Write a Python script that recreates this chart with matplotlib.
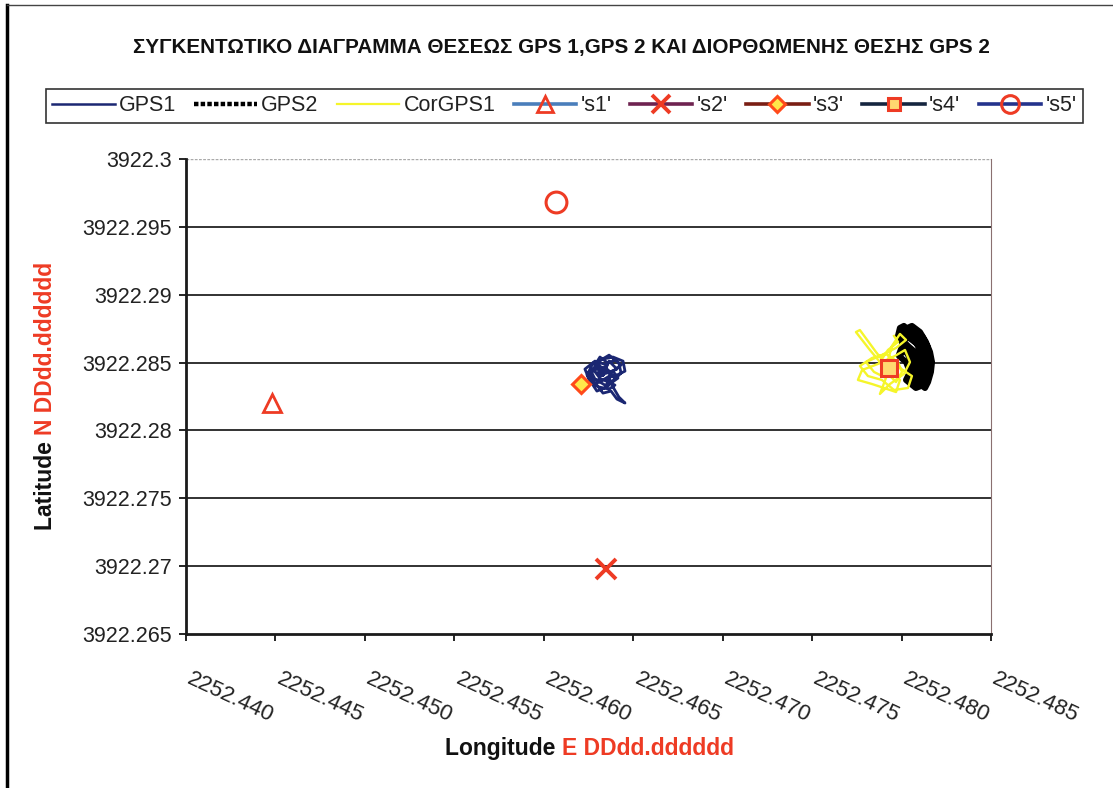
import matplotlib
matplotlib.use("Agg")
import matplotlib.pyplot as plt
import matplotlib.transforms as mtransforms
from matplotlib.lines import Line2D
from matplotlib.ticker import FixedLocator, FormatStrFormatter

plt.rcParams["font.family"] = ["Liberation Sans", "DejaVu Sans"]

TITLE = "ΣΥΓΚΕΝΤΩΤΙΚΟ ΔΙΑΓΡΑΜΜΑ ΘΕΣΕΩΣ GPS 1,GPS 2 ΚΑΙ ΔΙΟΡΘΩΜΕΝΗΣ ΘΕΣΗΣ GPS 2"
RED = "#EE3B24"

# GPS1 track (longitude E, latitude N, DDdd.dddddd)
gps1_lon = [2252.46331, 2252.46286, 2252.46314, 2252.46359, 2252.46398, 2252.46432,
            2252.46387, 2252.46415, 2252.46376, 2252.46320, 2252.46275, 2252.46253,
            2252.46297, 2252.46342, 2252.46376, 2252.46353, 2252.46398, 2252.46365,
            2252.46309, 2252.46264, 2252.46242, 2252.46275, 2252.46331, 2252.46387,
            2252.46443, 2252.46454, 2252.46409, 2252.46365, 2252.46387, 2252.46420,
            2252.46454, 2252.46409, 2252.46376, 2252.46331, 2252.46297, 2252.46253,
            2252.46230, 2252.46286, 2252.46353, 2252.46331,
            2252.46365, 2252.46409, 2252.46353, 2252.46309, 2252.46264, 2252.46286,
            2252.46342, 2252.46387, 2252.46432, 2252.46420, 2252.46365, 2252.46309,
            2252.46275, 2252.46309, 2252.46365, 2252.46398, 2252.46353, 2252.46297,
            2252.46275, 2252.46320, 2252.46376, 2252.46342, 2252.46297, 2252.46331]
gps1_lat = [3922.28408, 3922.28482, 3922.28541, 3922.28496, 3922.28519, 3922.28482,
            3922.28437, 3922.28386, 3922.28349, 3922.28379, 3922.28364, 3922.28423,
            3922.28452, 3922.28467, 3922.28423, 3922.28364, 3922.28334, 3922.28305,
            3922.28320, 3922.28349, 3922.28408, 3922.28496, 3922.28526, 3922.28541,
            3922.28511, 3922.28437, 3922.28408, 3922.28393, 3922.28320, 3922.28246,
            3922.28202, 3922.28231, 3922.28290, 3922.28275, 3922.28334, 3922.28379,
            3922.28452, 3922.28511, 3922.28482, 3922.28408,
            3922.28511, 3922.28452, 3922.28423, 3922.28482, 3922.28437, 3922.28379,
            3922.28334, 3922.28364, 3922.28423, 3922.28496, 3922.28555, 3922.28511,
            3922.28452, 3922.28393, 3922.28437, 3922.28379, 3922.28320, 3922.28290,
            3922.28334, 3922.28364, 3922.28408, 3922.28452, 3922.28423, 3922.28408]

# GPS2 track
gps2_lon = [2252.48008, 2252.48058, 2252.48103, 2252.48136, 2252.48159, 2252.48170,
            2252.48164, 2252.48148, 2252.48131, 2252.48103, 2252.48114, 2252.48125,
            2252.48108, 2252.48080, 2252.48041, 2252.48002, 2252.48036, 2252.48075,
            2252.48092, 2252.48097, 2252.48086, 2252.48058, 2252.48064, 2252.48047,
            2252.48019, 2252.47985, 2252.48025, 2252.48047, 2252.48025, 2252.48080,
            2252.48136, 2252.48159, 2252.48148, 2252.48125, 2252.48092, 2252.48047,
            2252.48013, 2252.48058, 2252.48103, 2252.48136, 2252.48148, 2252.48125,
            2252.48092, 2252.48069, 2252.48080, 2252.48069, 2252.48036, 2252.48002,
            2252.48025, 2252.48069, 2252.48114, 2252.48148, 2252.48013, 2252.47991,
            2252.47980, 2252.48008, 2252.47991]
gps2_lat = [3922.28740, 3922.28770, 3922.28725, 3922.28652, 3922.28578, 3922.28504,
            3922.28431, 3922.28357, 3922.28313, 3922.28342, 3922.28416, 3922.28490,
            3922.28578, 3922.28652, 3922.28696, 3922.28667, 3922.28622, 3922.28578,
            3922.28504, 3922.28431, 3922.28357, 3922.28387, 3922.28460, 3922.28534,
            3922.28593, 3922.28549, 3922.28504, 3922.28431, 3922.28372, 3922.28313,
            3922.28342, 3922.28431, 3922.28519, 3922.28608, 3922.28681, 3922.28725,
            3922.28711, 3922.28667, 3922.28622, 3922.28549, 3922.28460, 3922.28387,
            3922.28328, 3922.28372, 3922.28445, 3922.28519, 3922.28578, 3922.28622,
            3922.28696, 3922.28740, 3922.28696, 3922.28608, 3922.28770, 3922.28755,
            3922.28696, 3922.28637, 3922.28578]

# corrected track
cor_lon = [2252.47907, 2252.47823, 2252.47745, 2252.47767, 2252.47857, 2252.47946,
           2252.47991, 2252.47969, 2252.47902, 2252.47835, 2252.47756, 2252.47779,
           2252.47868, 2252.47963, 2252.48019, 2252.48047, 2252.48013, 2252.47935,
           2252.47879, 2252.47913, 2252.47846, 2252.47801, 2252.47879, 2252.47969,
           2252.48025, 2252.47991, 2252.47946, 2252.47924, 2252.47991, 2252.48058,
           2252.48036, 2252.47958, 2252.47890, 2252.47812, 2252.47767, 2252.47835,
           2252.47913, 2252.47980, 2252.48002, 2252.47969, 2252.47913, 2252.47879,
           2252.47924, 2252.47980, 2252.47958]
cor_lat = [3922.28460, 3922.28593, 3922.28725, 3922.28740, 3922.28578, 3922.28431,
           3922.28372, 3922.28283, 3922.28313, 3922.28342, 3922.28372, 3922.28445,
           3922.28490, 3922.28549, 3922.28593, 3922.28504, 3922.28416, 3922.28342,
           3922.28269, 3922.28387, 3922.28431, 3922.28504, 3922.28549, 3922.28608,
           3922.28667, 3922.28711, 3922.28622, 3922.28519, 3922.28460, 3922.28401,
           3922.28313, 3922.28298, 3922.28372, 3922.28401, 3922.28475, 3922.28534,
           3922.28563, 3922.28504, 3922.28431, 3922.28357, 3922.28431, 3922.28504,
           3922.28593, 3922.28652, 3922.28696]

# single reference stations s1..s5
st_names = ["'s1'", "'s2'", "'s3'", "'s4'", "'s5'"]
st_lon = [2252.4448, 2252.4635, 2252.4621, 2252.4793, 2252.4607]
st_lat = [3922.2820, 3922.2698, 3922.2834, 3922.2846, 3922.2968]

x_ticks = [2252.440, 2252.445, 2252.450, 2252.455, 2252.460,
           2252.465, 2252.470, 2252.475, 2252.480, 2252.485]
y_ticks = [3922.265, 3922.27, 3922.275, 3922.28, 3922.285, 3922.29, 3922.295, 3922.3]
y_labels = ["3922.265", "3922.27", "3922.275", "3922.28",
            "3922.285", "3922.29", "3922.295", "3922.3"]

fig = plt.figure(figsize=(11.13, 7.88), dpi=100)
ax = fig.add_axes([0.1671, 0.1954, 0.7233, 0.6028])

for y in y_ticks[1:-1]:
    ax.axhline(y, color="#222222", lw=1.3, zorder=1)
ax.axhline(y_ticks[-1], color="#aaaaaa", lw=1.0, ls=(0, (2, 1)), zorder=1)

ax.plot(gps1_lon, gps1_lat, color="#1B2772", lw=2.0, zorder=3)
ax.plot(gps2_lon, gps2_lat, color="black", lw=4.4, zorder=3)
ax.plot(cor_lon, cor_lat, color="#F5F52A", lw=1.7, zorder=4)

st_styles = [
    dict(marker="^", mfc="none", mec=RED, ms=13, mew=2.0, line="#4A7EBB"),
    dict(marker="x", mfc="none", mec=RED, ms=15, mew=2.8, line="#6E2350"),
    dict(marker="D", mfc="#FFE84A", mec="#FF4A1A", ms=9, mew=2.2, line="#7A1E14"),
    dict(marker="s", mfc="#FFD870", mec=RED, ms=11, mew=2.2, line="#15253F"),
    dict(marker="o", mfc="none", mec=RED, ms=15, mew=2.2, line="#24338C"),
]
for lon, lat, st in zip(st_lon, st_lat, st_styles):
    ax.plot([lon], [lat], ls="none", marker=st["marker"], mfc=st["mfc"],
            mec=st["mec"], ms=st["ms"], mew=st["mew"], zorder=5)

ax.set_xlim(x_ticks[0], x_ticks[-1])
ax.set_ylim(y_ticks[0], y_ticks[-1])
ax.xaxis.set_major_locator(FixedLocator(x_ticks))
ax.xaxis.set_major_formatter(FormatStrFormatter("%.3f"))
ax.yaxis.set_major_locator(FixedLocator(y_ticks))
ax.set_yticklabels(y_labels)
ax.tick_params(axis="y", direction="out", length=5, width=1.2, labelsize=15.5,
               labelcolor="#222222", pad=5)
ax.tick_params(axis="x", direction="out", length=5, width=1.2, labelsize=16,
               labelcolor="#222222", pad=20)
shift = mtransforms.ScaledTranslation(0.07, 0, fig.dpi_scale_trans)
for lbl in ax.get_xticklabels():
    lbl.set_rotation(-25)
    lbl.set_rotation_mode("anchor")
    lbl.set_ha("left")
    lbl.set_va("top")
    lbl.set_transform(lbl.get_transform() + shift)

for side in ("left", "bottom"):
    ax.spines[side].set_linewidth(2.0)
    ax.spines[side].set_color("#1a1a1a")
ax.spines["right"].set_linewidth(0.8)
ax.spines["right"].set_color("#8a7070")
ax.spines["top"].set_visible(False)

fig.text(0.504, 0.940, TITLE, ha="center", va="center", fontsize=14.9,
         fontweight="bold", color="#111111")

# axis titles: black word followed by red unit string
xl = fig.text(0.40, 0.042, "Longitude ", ha="left", va="baseline",
              fontsize=16.5, fontweight="bold", color="#111111")
ax.annotate("E DDdd.dddddd", xy=(1, 0), xycoords=xl, va="bottom",
            fontsize=16.5, fontweight="bold", color=RED)

yl = fig.text(0.041, 0.327, "Latitude ", ha="center", va="bottom", rotation=90,
              fontsize=16.5, fontweight="bold", color="#111111")
ax.annotate("N DDdd.dddddd", xy=(0.5, 1), xycoords=yl, ha="center", va="bottom",
            rotation=90, fontsize=16.5, fontweight="bold", color=RED)

handles = [
    Line2D([], [], color="#1B2772", lw=1.8),
    Line2D([], [], color="black", lw=3.2, ls=(0, (1, 0.5))),
    Line2D([], [], color="#F5F52A", lw=1.6),
]
labels = ["GPS1", "GPS2", "CorGPS1"]
for name, st in zip(st_names, st_styles):
    handles.append(Line2D([], [], color=st["line"], lw=2.6, marker=st["marker"],
                          mfc=st["mfc"], mec=st["mec"], ms=st["ms"] * 0.85,
                          mew=st["mew"]))
    labels.append(name)

leg = fig.legend(handles, labels, loc="center", bbox_to_anchor=(0.507, 0.8655),
                 ncol=8, fontsize=15.5, frameon=True, fancybox=False,
                 handlelength=2.9, handletextpad=0.2, columnspacing=0.85,
                 borderpad=0.3, borderaxespad=0)
leg.get_frame().set_edgecolor("black")
leg.get_frame().set_linewidth(1.2)
for t in leg.get_texts():
    t.set_color("#222222")

# outer border of the sheet (left and top edges)
fig.add_artist(Line2D([0.0063, 0.0063], [0, 0.994], transform=fig.transFigure,
                      color="black", lw=2.5))
fig.add_artist(Line2D([0.0063, 1.0], [0.994, 0.994], transform=fig.transFigure,
                      color="#444444", lw=1.0))

fig.savefig("out.png", dpi=100, facecolor="white")
